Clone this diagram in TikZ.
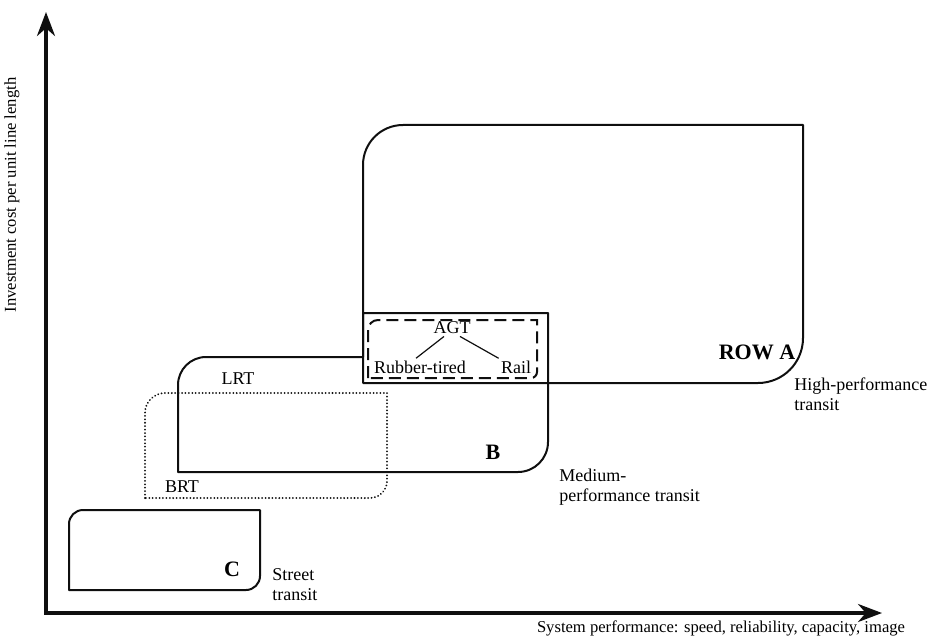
\documentclass[tikz,border=0pt]{standalone}
\usepackage{fontspec}
\setmainfont{Liberation Serif}
\usetikzlibrary{arrows.meta}
\definecolor{inkBlack}{RGB}{15, 15, 15}

\tikzset{
  boxline/.style={inkBlack, line width=1pt, line join=round},
  agtline/.style={inkBlack, line width=1pt, dash pattern=on 6pt off 3pt},
  brtline/.style={inkBlack, line width=1pt, dash pattern=on 0.01pt off 1.7pt, line cap=round},
  axisline/.style={inkBlack, line width=1.8pt, line join=miter},
  lbl/.style={font=\fontsize{9}{10}\selectfont, inner sep=1pt, align=left},
  tag/.style={font=\fontsize{11}{12}\selectfont\bfseries, inner sep=1pt},
  axislbl/.style={font=\fontsize{8.3}{10}\selectfont, inner sep=1pt},
}

\begin{document}
\begin{tikzpicture}[x=0.5pt, y=-0.5pt]
  \useasboundingbox (0,0) rectangle (931,642);

  \coordinate (origin) at (46,613);
  \coordinate (ytop) at (46,12);
  \coordinate (xend) at (882,613);
  \draw[axisline, {Stealth[length=12pt,width=9pt]}-{Stealth[length=12pt,width=9pt]}]
    (ytop) -- (origin) -- (xend);

  \node[axislbl, rotate=90] (ylab) at (12,195) {Investment cost per unit line length};
  \node[axislbl] (xlab) at (721,628) {System performance: speed, reliability, capacity, image};

  % high-performance transit
  \draw[boxline] (363,383) -- (363,165) arc (180:270:40) -- (803,125)
    -- (803,338) arc (0:90:45) -- cycle;
  \node[tag] (rowa) at (757,352) {ROW A};
  \node[lbl, anchor=west] (high) at (792,394) {High-performance\\transit};

  % medium-performance transit
  \draw[boxline] (178,472) -- (178,385) arc (180:270:28) -- (363,357)
    -- (363,313) -- (548,313) -- (548,442) arc (0:90:30) -- cycle;
  \node[tag] (rowb) at (493,452) {B};
  \node[lbl, anchor=west] (medium) at (557,487) {Medium-\\performance transit};
  \node[lbl] (lrt) at (238,379) {LRT};

  \draw[agtline] (368,378) -- (368,330) arc (180:270:10) -- (537,320)
    -- (537,372) arc (0:90:6) -- cycle;
  \node[lbl] (agt) at (452,328) {AGT};
  \node[lbl] (rubber) at (420,367) {Rubber-tired};
  \node[lbl] (rail) at (516,367) {Rail};
  \draw[inkBlack, line width=0.6pt] ([xshift=-4pt]agt.south) -- ([xshift=-2pt]rubber.north);
  \draw[inkBlack, line width=0.6pt] ([xshift=4pt]agt.south) -- (rail.north west);

  \draw[brtline] (145,498) -- (145,413) arc (180:270:20) -- (387,393)
    -- (387,481) arc (0:90:17) -- cycle;
  \node[lbl] (brt) at (182,487) {BRT};

  % street transit
  \draw[boxline] (69,590) -- (69,524) arc (180:270:14) -- (260,510)
    -- (260,576) arc (0:90:14) -- cycle;
  \node[tag] (rowc) at (232,569) {C};
  \node[lbl, anchor=west] (street) at (270,585) {Street\\transit};
\end{tikzpicture}
\end{document}
